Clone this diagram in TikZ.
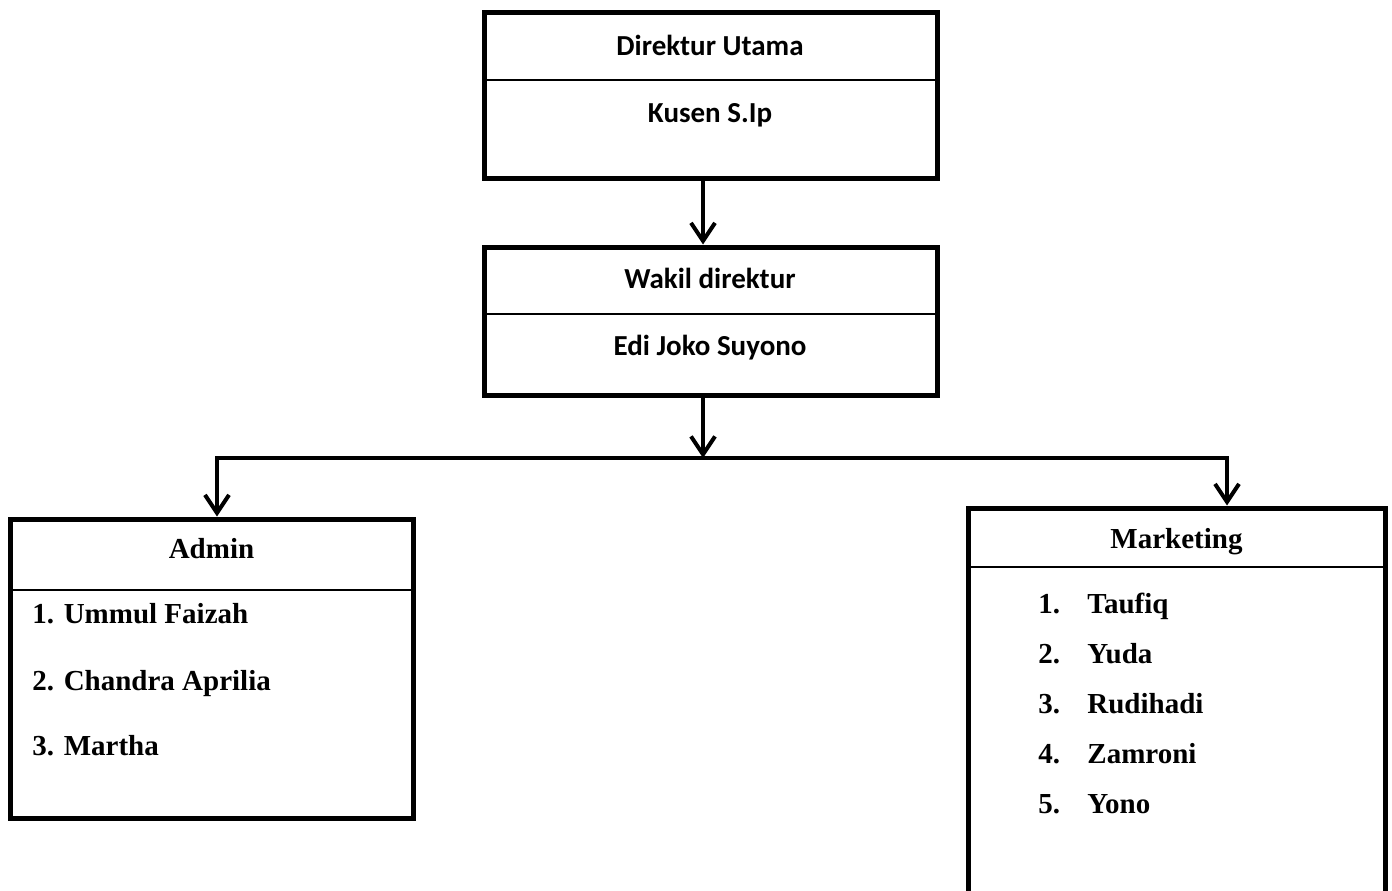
\documentclass[tikz,border=0pt]{standalone}
\usepackage{fontspec}
\setmainfont{Liberation Serif}
\newfontfamily\calibri{Carlito}
\usetikzlibrary{arrows.meta,positioning}
\tikzset{font=\fontsize{14.5}{17}\selectfont}
\tikzset{
  orgbox/.style={draw, rectangle, line width=2.5pt, inner sep=0pt},
  divider/.style={line width=0.8pt},
  link/.style={line width=2pt, -{Straight Barb[length=9pt,width=12pt]}},
  headtext/.style={font=\calibri\bfseries\fontsize{14.5}{17}\selectfont, anchor=base, inner sep=0pt},
  unittext/.style={font=\bfseries\fontsize{14.5}{17}\selectfont, anchor=base, inner sep=0pt},
  member/.style={font=\bfseries\fontsize{14.5}{17}\selectfont, anchor=base west, inner sep=0pt},
}

\begin{document}
\begin{tikzpicture}[x=0.5pt,y=-0.5pt]
  \useasboundingbox (0,0) rectangle (1392,890);
  % boxes
  \node[orgbox, minimum width=226.5pt, minimum height=83pt] (dirut) at (710.5,95) {};
  \node[orgbox, minimum width=226.5pt, minimum height=74pt] (wakil) at (710.5,321) {};
  \node[orgbox, minimum width=201.5pt, minimum height=149.5pt] (admin) at (211.5,668.5) {};
  \node[orgbox, minimum width=208.5pt, minimum height=198.5pt] (mkt) at (1176.5,706.5) {};
  \draw[divider] (484,80)--(937,80);
  \draw[divider] (484,314)--(937,314);
  \draw[divider] (10,590)--(413,590);
  \draw[divider] (968,567)--(1385,567);
  % texts
  \node[headtext] (dirutjab) at (710,55) {Direktur Utama};
  \node[headtext] (dirutnama) at (710,122) {Kusen S.Ip};
  \node[headtext] (wakiljab) at (710,288) {Wakil direktur};
  \node[headtext] (wakilnama) at (710,355) {Edi Joko Suyono};
  \node[unittext] (admintitle) at (211.5,558) {Admin};
  \node[unittext] (mkttitle) at (1176.5,548) {Marketing};
  \node[member] (adm1) at (32,623) {1. Ummul Faizah};
  \node[member] (adm2) at (32,690) {2. Chandra Aprilia};
  \node[member] (adm3) at (32,755) {3. Martha};
  \foreach \n/\who [count=\i] in {1/Taufiq, 2/Yuda, 3/Rudihadi, 4/Zamroni, 5/Yono}{
    \node[member] (mktno\i) at (1038,563+50*\i) {\n.};
    \node[member] (mktnm\i) at (1087,563+50*\i) {\who};
  };
  % connectors
  \coordinate (split) at (703,458);
  \coordinate (lft) at (217,458);
  \coordinate (rgt) at (1227,458);
  \draw[link] (dirut.south -| split) -- (wakil.north -| split);
  \draw[link] (wakil.south -| split) -- (split);
  \draw[link] (split) -- (lft) -- (admin.north -| lft);
  \draw[link] (split) -- (rgt) -- (mkt.north -| rgt);
\end{tikzpicture}
\end{document}
